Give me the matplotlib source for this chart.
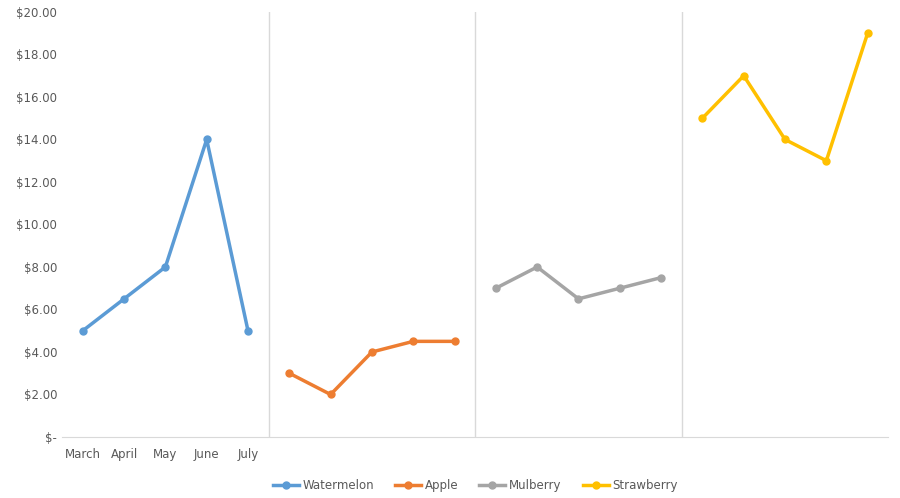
import matplotlib
matplotlib.use("Agg")
import matplotlib.pyplot as plt
from matplotlib.ticker import FuncFormatter

months = ["March", "April", "May", "June", "July"]
series_names = ["Watermelon", "Apple", "Mulberry", "Strawberry"]
watermelon = [5, 6.5, 8, 14, 5]
apple = [3, 2, 4, 4.5, 4.5]
mulberry = [7, 8, 6.5, 7, 7.5]
strawberry = [15, 17, 14, 13, 19]
colors = ["#5B9BD5", "#ED7D31", "#A5A5A5", "#FFC000"]

fig = plt.figure(figsize=(9, 4.98), dpi=100)
ax = fig.add_axes([0.069, 0.1225, 0.918, 0.8535])
for i, (name, vals) in enumerate(zip(series_names, [watermelon, apple, mulberry, strawberry])):
    xs = [i * 5 + j for j in range(len(vals))]
    ax.plot(xs, vals, color=colors[i], lw=2.5, marker="o", ms=5, label=name)
for b in (4.5, 9.5, 14.5):
    ax.axvline(b, color="#D9D9D9", lw=1)
ax.set_xlim(-0.5, 19.5)
ax.set_ylim(0, 20)
ax.set_yticks(range(0, 21, 2))
ax.yaxis.set_major_formatter(FuncFormatter(lambda v, p: "$-" if v == 0 else f"${v:.2f}"))
ax.set_xticks(range(5))
ax.set_xticklabels(months)
for s in ("top", "right", "left"):
    ax.spines[s].set_visible(False)
ax.spines["bottom"].set_color("#D9D9D9")
ax.tick_params(axis="both", length=0, labelsize=8.5, colors="#595959")
ax.tick_params(axis="x", pad=8)
ax.legend(loc="upper center", bbox_to_anchor=(0.5, -0.075), ncol=4, frameon=False,
          fontsize=8.5, labelcolor="#595959", handlelength=2.2, handletextpad=0.3,
          columnspacing=1.8)
fig.savefig("out.png", dpi=100)
